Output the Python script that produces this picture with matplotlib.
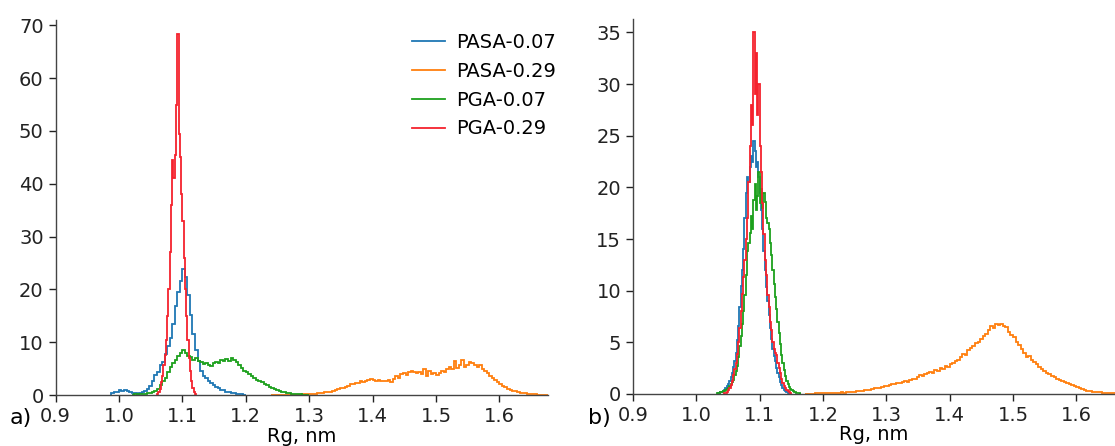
import numpy as np
import matplotlib
matplotlib.use("Agg")
import matplotlib.pyplot as plt

# histogram heights (probability density), one array per run; bins start at *_start with width *_w
labels = ["PASA-0.07", "PASA-0.29", "PGA-0.07", "PGA-0.29"]
colors = ["#1f77b4", "#ff7f0e", "#1ca01c", "#f5222d"]

# panel a)
a_pasa007_start, a_pasa007_w = 0.988, 0.004
a_pasa007 = [0.3, 0.5, 0.6, 0.9, 0.7, 1.0, 0.8, 0.6, 0.4, 0.3, 0.2, 0.3, 0.5, 0.7, 1.2, 1.8,
             2.6, 3.8, 4.4, 5.6, 6.3, 7.8, 9.2, 10.8, 13.5, 16.8, 19.5, 21.5, 23.8, 22.4, 19.0,
             15.2, 11.5, 8.6, 6.4, 4.6, 3.6, 3.2, 2.6, 2.3, 1.9, 1.6, 1.4, 1.0, 0.9, 0.6, 0.5,
             0.4, 0.3, 0.2, 0.15, 0.1, 0.05]

a_pasa029_start, a_pasa029_w = 1.240, 0.004
a_pasa029 = [0.02, 0.02, 0.03, 0.03, 0.04, 0.05, 0.05, 0.06, 0.06, 0.07, 0.08, 0.08, 0.1, 0.1, 0.12,
             0.15, 0.2, 0.25, 0.3, 0.35, 0.45, 0.5, 0.55, 0.65, 0.8, 1.0, 1.1, 1.3, 1.4, 1.6, 1.8,
             2.0, 2.1, 2.3, 2.2, 2.6, 2.5, 2.7, 2.9, 3.1, 2.8, 2.7, 2.9, 2.6, 2.7, 2.6, 2.8, 2.5,
             3.0, 3.6, 3.3, 3.9, 4.1, 3.8, 4.3, 4.6, 4.4, 4.1, 4.3, 4.0, 4.9, 3.6, 4.5, 4.0, 4.2,
             3.8, 4.1, 4.6, 4.4, 4.9, 5.3, 5.0, 6.4, 5.2, 5.6, 6.6, 5.3, 5.6, 6.2, 6.0, 5.6, 5.4,
             5.7, 5.0, 4.5, 4.1, 3.6, 3.2, 2.8, 2.5, 2.1, 1.8, 1.5, 1.2, 1.0, 0.8, 0.7, 0.5, 0.4,
             0.3, 0.3, 0.2, 0.2, 0.15, 0.1, 0.08, 0.05, 0.03, 0.02]

a_pga007_start, a_pga007_w = 1.020, 0.004
a_pga007 = [0.05, 0.1, 0.1, 0.15, 0.2, 0.2, 0.3, 0.4, 0.5, 0.8, 1.1, 1.9, 2.6, 3.3, 4.4, 5.3,
            6.1, 6.6, 7.4, 7.9, 8.6, 8.0, 7.4, 7.2, 6.6, 7.0, 6.4, 6.2, 5.9, 6.0, 5.6, 5.5, 6.0,
            6.3, 6.1, 6.6, 6.4, 6.8, 6.5, 7.0, 6.6, 6.2, 5.6, 5.2, 4.6, 4.4, 3.9, 3.6, 3.2, 2.9,
            2.7, 2.4, 2.1, 1.9, 1.6, 1.4, 1.1, 0.9, 0.8, 0.6, 0.5, 0.4, 0.3, 0.25, 0.2, 0.15,
            0.1, 0.08, 0.05, 0.03]

a_pga029_start, a_pga029_w = 1.060, 0.002
a_pga029 = [0.2, 0.6, 1.2, 2.4, 3.6, 5.6, 7.6, 10.5, 15.0, 20.0, 27.0, 36.0, 44.5, 41.0, 45.5,
            55.0, 68.4, 49.5, 45.0, 38.0, 33.0, 26.0, 20.0, 15.0, 10.5, 7.0, 4.6, 2.6, 1.3, 0.6, 0.2]

# panel b)
b_pasa007_start, b_pasa007_w = 1.034, 0.002
b_pasa007 = [0.05, 0.1, 0.15, 0.2, 0.3, 0.4, 0.6, 0.8, 1.0, 1.3, 1.6, 2.0, 2.6, 3.2, 4.0, 5.2,
             6.6, 8.4, 10.5, 12.0, 14.0, 17.0, 19.5, 21.0, 20.5, 22.0, 23.0, 22.5, 24.5, 23.5,
             22.0, 22.5, 21.0, 19.5, 17.8, 16.0, 13.8, 12.0, 10.4, 9.0, 7.6, 6.4, 5.3, 4.4, 3.7,
             3.2, 2.5, 2.0, 1.6, 1.2, 0.9, 0.6, 0.4, 0.25, 0.15, 0.08]

b_pasa029_start, b_pasa029_w = 1.172, 0.004
b_pasa029 = [0.02, 0.03, 0.03, 0.04, 0.05, 0.05, 0.06, 0.06, 0.07, 0.08,
             0.08, 0.1, 0.1, 0.12, 0.15, 0.14, 0.16, 0.2, 0.18, 0.22,
             0.3, 0.28, 0.3, 0.35, 0.4, 0.42, 0.5, 0.55, 0.6, 0.62,
             0.7, 0.8, 0.75, 0.9, 1.0, 1.0, 1.1, 1.05, 1.2, 1.3,
             1.2, 1.4, 1.5, 1.45, 1.6, 1.8, 1.7, 1.9, 2.0, 2.1,
             2.0, 2.3, 2.2, 2.5, 2.4, 2.7, 2.6, 2.9, 3.0, 3.2,
             3.3, 3.6, 3.9, 3.8, 4.3, 4.5, 4.6, 4.9, 5.0, 5.3,
             5.6, 5.8, 6.2, 6.6, 6.4, 6.8, 6.7, 6.8, 6.6, 6.5,
             6.0, 5.7, 5.5, 5.0, 4.7, 4.4, 4.0, 3.6, 3.7, 3.3,
             3.1, 2.9, 2.6, 2.4, 2.2, 2.0, 1.9, 1.7, 1.6, 1.5,
             1.4, 1.3, 1.2, 1.1, 1.0, 0.9, 0.8, 0.65, 0.55, 0.45,
             0.35, 0.3, 0.25, 0.22, 0.2, 0.18, 0.15, 0.14, 0.12, 0.12,
             0.1, 0.1, 0.08, 0.06]

b_pga007_start, b_pga007_w = 1.032, 0.002
b_pga007 = [0.05, 0.1, 0.1, 0.15, 0.2, 0.25, 0.3, 0.4, 0.5, 0.6, 0.8, 1.0, 1.2, 1.4, 1.8, 2.2,
            2.7, 3.6, 4.6, 5.6, 6.8, 8.0, 9.6, 11.5, 13.8, 14.6, 15.6, 17.2, 16.0, 18.8, 20.3,
            17.8, 19.2, 21.5, 18.5, 19.8, 18.0, 19.5, 18.6, 17.0, 16.6, 16.0, 14.6, 13.5, 12.0,
            10.6, 9.4, 8.2, 7.0, 5.9, 4.8, 3.8, 3.0, 2.3, 1.7, 1.3, 1.0, 0.7, 0.5, 0.4, 0.3,
            0.2, 0.15, 0.1, 0.08, 0.05, 0.03]

b_pga029_start, b_pga029_w = 1.044, 0.002
b_pga029 = [0.05, 0.1, 0.2, 0.4, 0.6, 0.9, 1.3, 1.8, 2.4, 3.0, 3.9, 5.0, 6.4, 8.0, 9.7, 11.3,
            13.0, 15.0, 17.0, 20.5, 24.0, 28.0, 26.0, 35.0, 29.0, 33.0, 27.0, 30.0, 24.0, 21.5,
            18.5, 15.5, 13.0, 11.5, 9.6, 8.4, 7.0, 6.2, 5.0, 4.4, 4.0, 3.8, 3.0, 2.5, 2.0, 1.5,
            1.1, 0.8, 0.6, 0.4, 0.25, 0.15, 0.05]

panel_a = [(a_pasa007_start, a_pasa007_w, a_pasa007),
           (a_pasa029_start, a_pasa029_w, a_pasa029),
           (a_pga007_start, a_pga007_w, a_pga007),
           (a_pga029_start, a_pga029_w, a_pga029)]
panel_b = [(b_pasa007_start, b_pasa007_w, b_pasa007),
           (b_pasa029_start, b_pasa029_w, b_pasa029),
           (b_pga007_start, b_pga007_w, b_pga007),
           (b_pga029_start, b_pga029_w, b_pga029)]

plt.rcParams["font.family"] = "DejaVu Sans"
plt.rcParams["font.size"] = 14

fig = plt.figure(figsize=(11.15, 4.46), dpi=100)
ax1 = fig.add_axes([0.0498, 0.1143, 0.4413, 0.8408])
ax2 = fig.add_axes([0.5677, 0.1166, 0.4323, 0.8408])


def draw(ax, series):
    for (start, w, vals), lab, c in zip(series, labels, colors):
        vals = np.array(vals)
        edges = start + w * np.arange(len(vals) + 1)
        ax.stairs(vals, edges, color=c, lw=1.3, label=lab)


draw(ax1, panel_a)
draw(ax2, panel_b)

for ax in (ax1, ax2):
    for s in ("top", "right"):
        ax.spines[s].set_visible(False)
    for s in ("left", "bottom"):
        ax.spines[s].set_color("#444444")
        ax.spines[s].set_linewidth(1.0)
    ax.tick_params(colors="#222222", length=5, width=1.0)
    ax.set_xticks(np.arange(0.9, 1.65, 0.1))
    ax.set_xticklabels(["%.1f" % t for t in np.arange(0.9, 1.65, 0.1)])
    ax.set_xlabel("Rg, nm", labelpad=0.5)

ax1.set_xlim(0.9, 1.676)
ax1.set_ylim(0, 71)
ax1.set_yticks(np.arange(0, 71, 10))
ax2.set_xlim(0.9, 1.661)
ax2.set_ylim(0, 36.3)
ax2.set_yticks(np.arange(0, 36, 5))

leg = ax1.legend(loc="upper left", bbox_to_anchor=(0.7236, 0.965), frameon=False,
                 borderpad=0, borderaxespad=0, handlelength=1.7, handletextpad=0.6,
                 fontsize=14)

fig.text(0.019, 0.063, "a)", fontsize=16, va="center", ha="center")
fig.text(0.538, 0.063, "b)", fontsize=16, va="center", ha="center")

fig.savefig("out.png", dpi=100)
